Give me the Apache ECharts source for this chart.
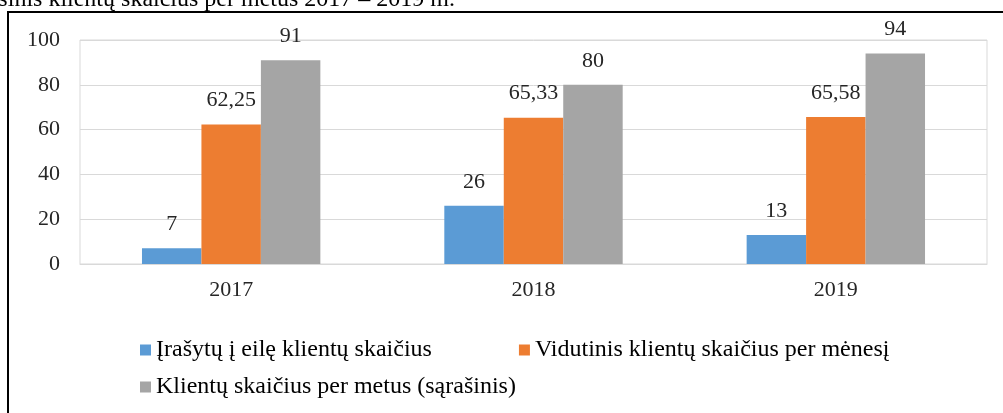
<!DOCTYPE html>
<html>
<head>
<meta charset="utf-8">
<script src="https://cdn.jsdelivr.net/npm/echarts@6/dist/echarts.min.js"></script>
<style>
  html, body { margin: 0; padding: 0; background: #fff; }
  #chart { width: 1003px; height: 413px; }
</style>
</head>
<body>
<div id="chart"></div>
<script>
// data
const years = ['2017', '2018', '2019'];
const queued = [7, 26, 13];
const monthlyAvg = [62.25, 65.33, 65.58];
const yearly = [91, 80, 94];
const seriesNames = [
  'Įrašytų į eilę klientų skaičius',
  'Vidutinis klientų skaičius per mėnesį',
  'Klientų skaičius per metus (sąrašinis)'
];
const colors = ['#5b9bd5', '#ed7d31', '#a5a5a5'];

const FONT = "'Liberation Serif', 'Times New Roman', serif";
const TXT = '#262626';

const chart = echarts.init(document.getElementById('chart'));

// Excel-like data label: comma decimal separator
const fmt = p => String(p.value).replace('.', ',');

const barSeries = (name, data, color) => ({
  name,
  type: 'bar',
  data,
  barGap: 0,
  barCategoryGap: '41%',
  itemStyle: { color },
  label: {
    show: true,
    position: 'top',
    distance: 13,
    formatter: fmt,
    color: TXT,
    fontFamily: FONT,
    fontSize: 22
  }
});

const legendBase = {
  icon: 'rect',
  itemWidth: 11,
  itemHeight: 11,
  itemGap: 87,
  left: 135,
  textStyle: { fontFamily: FONT, fontSize: 24, color: '#000' }
};

chart.setOption({
  animation: false,
  textStyle: { fontFamily: FONT },
  grid: {
    left: 80, right: 16, top: 40, bottom: 149,
    show: true, borderColor: '#d9d9d9', borderWidth: 1
  },
  xAxis: {
    type: 'category',
    data: years,
    axisLine: { lineStyle: { color: '#d9d9d9' } },
    axisTick: { show: false },
    axisLabel: { color: TXT, fontFamily: FONT, fontSize: 22, margin: 15 }
  },
  yAxis: {
    type: 'value',
    min: 0, max: 100, interval: 20,
    axisLine: { show: false },
    axisTick: { show: false },
    splitLine: { lineStyle: { color: '#d9d9d9' } },
    axisLabel: { color: TXT, fontFamily: FONT, fontSize: 22, margin: 20 }
  },
  legend: [
    Object.assign({}, legendBase, { top: 333, data: [seriesNames[0], seriesNames[1]] }),
    Object.assign({}, legendBase, { top: 370, data: [seriesNames[2]] })
  ],
  series: [
    barSeries(seriesNames[0], queued, colors[0]),
    barSeries(seriesNames[1], monthlyAvg, colors[1]),
    barSeries(seriesNames[2], yearly, colors[2])
  ],
  graphic: [
    {
      type: 'rect',
      shape: { x: 8, y: 12, width: 1100, height: 500 },
      style: { fill: null, stroke: '#000', lineWidth: 2 },
      silent: true
    },
    {
      type: 'text',
      x: 455,
      y: 12,
      style: {
        text: 'Sąrašinis klientų skaičius per metus 2017 – 2019 m.',
        font: '24px ' + FONT,
        fill: '#000',
        align: 'right',
        verticalAlign: 'bottom'
      },
      silent: true
    }
  ]
});
</script>
</body>
</html>
